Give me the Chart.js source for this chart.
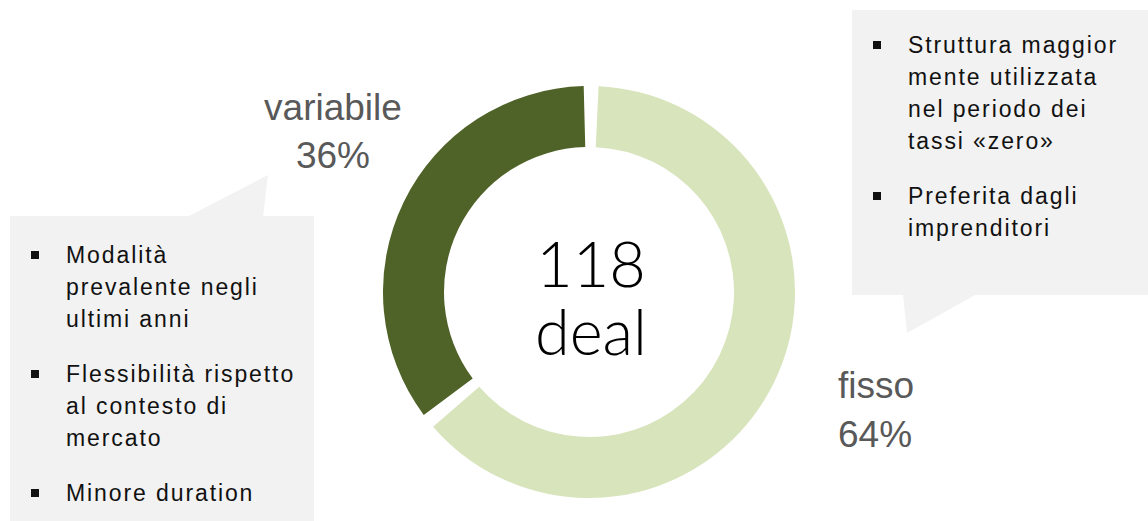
<!DOCTYPE html>
<html>
<head>
<meta charset="utf-8">
<script src="https://cdn.jsdelivr.net/npm/chart.js@4/dist/chart.umd.min.js"></script>
<style>
body{margin:0;width:1148px;height:521px;background:#fff;position:relative;overflow:hidden;font-family:"Liberation Sans",Arial,sans-serif;}
#shapes{position:absolute;left:0;top:0;}
#wrap{position:absolute;left:383px;top:86px;width:412px;height:412px;}
.lbl{position:absolute;color:#595959;font-size:37px;line-height:48px;white-space:nowrap;}
.center{position:absolute;left:491px;width:200px;text-align:center;color:#000;font-family:Lato,"Liberation Sans",sans-serif;font-weight:300;font-size:63px;line-height:68px;top:229px;}
.notes{position:absolute;color:#111;font-size:23px;line-height:32px;letter-spacing:1.9px;white-space:nowrap;}
.notes p{margin:0 0 23px 0;position:relative;}
.notes p:before{content:"";position:absolute;left:-35px;top:12px;width:8px;height:8px;background:#111;}
</style>
</head>
<body>
<svg id="shapes" width="1148" height="521">
  <rect x="10" y="216" width="304" height="305" fill="#f2f2f2"/>
  <polygon points="187,217 268,175 263,217" fill="#f2f2f2"/>
  <rect x="852" y="10" width="296" height="285" fill="#f2f2f2"/>
  <polygon points="903,294 907,333 977,294" fill="#f2f2f2"/>
</svg>

<div class="notes" style="left:66px;top:239px;">
  <p>Modalità<br>prevalente negli<br>ultimi anni</p>
  <p>Flessibilità rispetto<br>al contesto di<br>mercato</p>
  <p>Minore duration</p>
</div>
<div class="notes" style="left:908px;top:29px;">
  <p>Struttura maggior<br>mente utilizzata<br>nel periodo dei<br>tassi «zero»</p>
  <p>Preferita dagli<br>imprenditori</p>
</div>

<div class="lbl" id="lblVar" style="left:233px;width:200px;text-align:center;top:84px;"></div>
<div class="lbl" id="lblFix" style="left:838px;top:361px;line-height:49px;"></div>
<div class="center" id="centerTxt"></div>

<div id="wrap"><canvas id="donut"></canvas></div>

<script>
var categories = ['fisso', 'variabile'];
var dealCounts = [76, 42];
var sliceColors = ['#d8e4bc', '#4f6228'];

var total = dealCounts.reduce(function(a, b){ return a + b; }, 0);
function pct(i) { return Math.round(dealCounts[i] / total * 100) + '%'; }

document.getElementById('lblFix').innerHTML = categories[0] + '<br>' + pct(0);
document.getElementById('lblVar').innerHTML = categories[1] + '<br>' + pct(1);
document.getElementById('centerTxt').innerHTML = total + '<br>deal';

var donut = new Chart(document.getElementById('donut'), {
    type: 'doughnut',
    data: {
        labels: categories,
        datasets: [{
            data: dealCounts,
            backgroundColor: sliceColors,
            borderWidth: 0,
            spacing: 8
        }]
    },
    options: {
        responsive: true,
        maintainAspectRatio: false,
        animation: false,
        cutout: '69.8%',
        layout: { padding: 0 },
        plugins: {
            legend: { display: false },
            tooltip: { enabled: false }
        }
    }
});
</script>
</body>
</html>
